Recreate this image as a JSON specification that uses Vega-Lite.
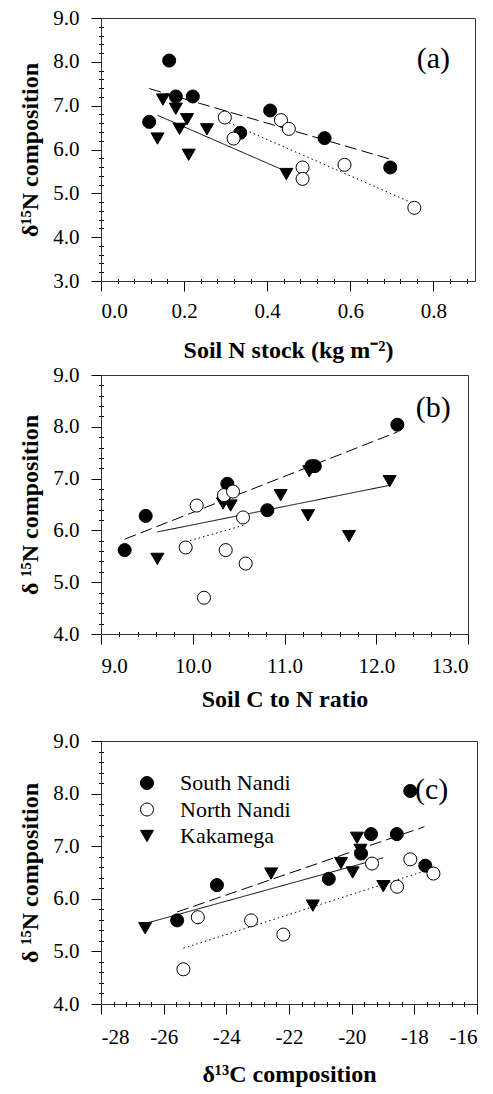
{
  "$schema": "https://vega.github.io/schema/vega-lite/v6.json",
  "padding": {"left": 18, "top": 6, "right": 5, "bottom": 5},
  "background": "white",
  "config": {
    "font": "Liberation Serif",
    "style": {"guide-label": {"font": "Liberation Serif"}},
    "view": {"stroke": "#333", "strokeWidth": 1},
    "axis": {"labelFont": "Liberation Serif", "labelFontSize": 21, "labelColor": "black", "titleFont": "Liberation Serif", "titleFontSize": 24, "titleFontWeight": "bold", "titleColor": "black", "grid": false, "domainColor": "#333", "tickColor": "black", "tickSize": 10, "domainWidth": 1, "tickWidth": 1},
    "legend": {"labelFont": "Liberation Serif, serif", "labelFontSize": 22, "labelColor": "black", "symbolStrokeColor": "black", "symbolStrokeWidth": 1}
  },
  "datasets": {
    "pts": [
      {"panel": "a", "site": "Kakamega", "x": 0.149, "y": 7.14},
      {"panel": "a", "site": "Kakamega", "x": 0.180, "y": 6.93},
      {"panel": "a", "site": "Kakamega", "x": 0.207, "y": 6.69},
      {"panel": "a", "site": "Kakamega", "x": 0.189, "y": 6.47},
      {"panel": "a", "site": "Kakamega", "x": 0.136, "y": 6.25},
      {"panel": "a", "site": "Kakamega", "x": 0.255, "y": 6.46},
      {"panel": "a", "site": "Kakamega", "x": 0.211, "y": 5.88},
      {"panel": "a", "site": "Kakamega", "x": 0.446, "y": 5.44},
      {"panel": "a", "site": "South Nandi", "x": 0.116, "y": 6.63},
      {"panel": "a", "site": "South Nandi", "x": 0.164, "y": 8.03},
      {"panel": "a", "site": "South Nandi", "x": 0.180, "y": 7.21},
      {"panel": "a", "site": "South Nandi", "x": 0.221, "y": 7.21},
      {"panel": "a", "site": "South Nandi", "x": 0.335, "y": 6.38},
      {"panel": "a", "site": "South Nandi", "x": 0.407, "y": 6.89},
      {"panel": "a", "site": "South Nandi", "x": 0.538, "y": 6.26},
      {"panel": "a", "site": "South Nandi", "x": 0.696, "y": 5.59},
      {"panel": "a", "site": "North Nandi", "x": 0.298, "y": 6.73},
      {"panel": "a", "site": "North Nandi", "x": 0.319, "y": 6.25},
      {"panel": "a", "site": "North Nandi", "x": 0.433, "y": 6.67},
      {"panel": "a", "site": "North Nandi", "x": 0.452, "y": 6.47},
      {"panel": "a", "site": "North Nandi", "x": 0.485, "y": 5.59},
      {"panel": "a", "site": "North Nandi", "x": 0.485, "y": 5.33},
      {"panel": "a", "site": "North Nandi", "x": 0.586, "y": 5.65},
      {"panel": "a", "site": "North Nandi", "x": 0.754, "y": 4.67},
      {"panel": "b", "site": "Kakamega", "x": 9.614, "y": 5.45},
      {"panel": "b", "site": "Kakamega", "x": 10.330, "y": 6.52},
      {"panel": "b", "site": "Kakamega", "x": 10.413, "y": 6.48},
      {"panel": "b", "site": "Kakamega", "x": 10.958, "y": 6.68},
      {"panel": "b", "site": "Kakamega", "x": 11.256, "y": 6.29},
      {"panel": "b", "site": "Kakamega", "x": 11.703, "y": 5.89},
      {"panel": "b", "site": "Kakamega", "x": 12.146, "y": 6.95},
      {"panel": "b", "site": "Kakamega", "x": 11.27, "y": 7.14},
      {"panel": "b", "site": "South Nandi", "x": 9.258, "y": 5.62},
      {"panel": "b", "site": "South Nandi", "x": 9.487, "y": 6.28},
      {"panel": "b", "site": "South Nandi", "x": 10.377, "y": 6.90},
      {"panel": "b", "site": "South Nandi", "x": 10.813, "y": 6.39},
      {"panel": "b", "site": "South Nandi", "x": 11.293, "y": 7.24},
      {"panel": "b", "site": "South Nandi", "x": 11.33, "y": 7.24},
      {"panel": "b", "site": "South Nandi", "x": 12.23, "y": 8.04},
      {"panel": "b", "site": "South Nandi", "x": 10.341, "y": 6.66},
      {"panel": "b", "site": "North Nandi", "x": 10.043, "y": 6.48},
      {"panel": "b", "site": "North Nandi", "x": 10.341, "y": 6.68},
      {"panel": "b", "site": "North Nandi", "x": 10.439, "y": 6.75},
      {"panel": "b", "site": "North Nandi", "x": 10.548, "y": 6.25},
      {"panel": "b", "site": "North Nandi", "x": 9.923, "y": 5.67},
      {"panel": "b", "site": "North Nandi", "x": 10.359, "y": 5.62},
      {"panel": "b", "site": "North Nandi", "x": 10.577, "y": 5.36},
      {"panel": "b", "site": "North Nandi", "x": 10.123, "y": 4.70},
      {"panel": "c", "site": "Kakamega", "x": -26.59, "y": 5.44},
      {"panel": "c", "site": "Kakamega", "x": -22.57, "y": 6.48},
      {"panel": "c", "site": "Kakamega", "x": -21.24, "y": 5.87},
      {"panel": "c", "site": "Kakamega", "x": -20.34, "y": 6.68},
      {"panel": "c", "site": "Kakamega", "x": -19.97, "y": 6.50},
      {"panel": "c", "site": "Kakamega", "x": -19.83, "y": 7.16},
      {"panel": "c", "site": "Kakamega", "x": -18.99, "y": 6.24},
      {"panel": "c", "site": "Kakamega", "x": -19.72, "y": 6.93},
      {"panel": "c", "site": "South Nandi", "x": -25.57, "y": 5.59},
      {"panel": "c", "site": "South Nandi", "x": -24.30, "y": 6.26},
      {"panel": "c", "site": "South Nandi", "x": -20.73, "y": 6.38},
      {"panel": "c", "site": "South Nandi", "x": -19.70, "y": 6.86},
      {"panel": "c", "site": "South Nandi", "x": -19.38, "y": 7.23},
      {"panel": "c", "site": "South Nandi", "x": -18.56, "y": 7.23},
      {"panel": "c", "site": "South Nandi", "x": -18.13, "y": 8.05},
      {"panel": "c", "site": "South Nandi", "x": -17.65, "y": 6.63},
      {"panel": "c", "site": "North Nandi", "x": -24.91, "y": 5.65},
      {"panel": "c", "site": "North Nandi", "x": -23.21, "y": 5.59},
      {"panel": "c", "site": "North Nandi", "x": -22.18, "y": 5.32},
      {"panel": "c", "site": "North Nandi", "x": -25.37, "y": 4.66},
      {"panel": "c", "site": "North Nandi", "x": -19.35, "y": 6.67},
      {"panel": "c", "site": "North Nandi", "x": -18.55, "y": 6.23},
      {"panel": "c", "site": "North Nandi", "x": -18.13, "y": 6.75},
      {"panel": "c", "site": "North Nandi", "x": -17.39, "y": 6.48}
    ],
    "fits": [
      {"panel": "a", "site": "South Nandi", "x": 0.116, "y": 7.39},
      {"panel": "a", "site": "South Nandi", "x": 0.696, "y": 5.78},
      {"panel": "a", "site": "North Nandi", "x": 0.298, "y": 6.65},
      {"panel": "a", "site": "North Nandi", "x": 0.754, "y": 4.76},
      {"panel": "a", "site": "Kakamega", "x": 0.136, "y": 6.78},
      {"panel": "a", "site": "Kakamega", "x": 0.446, "y": 5.50},
      {"panel": "b", "site": "South Nandi", "x": 9.258, "y": 5.83},
      {"panel": "b", "site": "South Nandi", "x": 12.23, "y": 7.90},
      {"panel": "b", "site": "North Nandi", "x": 9.923, "y": 5.78},
      {"panel": "b", "site": "North Nandi", "x": 10.558, "y": 6.10},
      {"panel": "b", "site": "Kakamega", "x": 9.614, "y": 5.97},
      {"panel": "b", "site": "Kakamega", "x": 12.146, "y": 6.87},
      {"panel": "c", "site": "South Nandi", "x": -25.57, "y": 5.75},
      {"panel": "c", "site": "South Nandi", "x": -17.68, "y": 7.37},
      {"panel": "c", "site": "North Nandi", "x": -25.37, "y": 5.06},
      {"panel": "c", "site": "North Nandi", "x": -17.39, "y": 6.58},
      {"panel": "c", "site": "Kakamega", "x": -26.59, "y": 5.53},
      {"panel": "c", "site": "Kakamega", "x": -18.99, "y": 6.78}
    ]
  },
  "resolve": {"scale": {"fill": "independent", "shape": "independent", "stroke": "independent", "strokeDash": "independent"}},
  "spacing": 17,
  "vconcat": [
    {
      "spacing": 0,
      "resolve": {"scale": {"fill": "independent", "shape": "independent", "stroke": "independent", "strokeDash": "independent"}},
      "vconcat": [
        {
          "width": 374, "height": 263,
          "resolve": {"axis": {"x": "independent", "y": "independent"}},
          "layer": [
            {
              "data": {"name": "fits"},
              "transform": [{"filter": "datum.panel === 'a'"}],
              "mark": {"type": "line", "color": "black", "strokeWidth": 1},
              "encoding": {
                "x": {"field": "x", "type": "quantitative", "scale": {"domain": [0, 0.9], "nice": false, "zero": false},
                  "axis": {"orient": "bottom", "values": [0.04,0.08,0.12,0.16,0.24,0.28,0.32,0.36,0.44,0.48,0.52,0.56,0.64,0.68,0.72,0.76,0.84,0.88], "labels": false, "domain": false, "tickSize": 5, "offset": -2.5, "title": null}},
                "y": {"field": "y", "type": "quantitative", "scale": {"domain": [3, 9], "nice": false, "zero": false},
                  "axis": {"orient": "left", "values": [3.2,3.4,3.6,3.8,4.2,4.4,4.6,4.8,5.2,5.4,5.6,5.8,6.2,6.4,6.6,6.8,7.2,7.4,7.6,7.8,8.2,8.4,8.6,8.8], "labels": false, "domain": false, "tickSize": 5, "offset": -2.5, "title": null}},
                "detail": {"field": "site"},
                "strokeDash": {"field": "site", "type": "nominal", "scale": {"domain": ["Kakamega", "North Nandi", "South Nandi"], "range": [[1, 0], [1.5, 3], [12, 5]]}, "legend": null}
              }
            },
            {
              "data": {"name": "pts"},
              "transform": [{"filter": "datum.panel === 'a'"}],
              "mark": {"type": "point", "filled": true, "strokeWidth": 1, "opacity": 1, "size": 170},
              "encoding": {
                "x": {"field": "x", "type": "quantitative", "axis": {"orient": "bottom", "values": [0, 0.2, 0.4, 0.6, 0.8], "format": ".1f", "title": "Soil N stock  (kg m⁻²)", "labelPadding": 9, "titlePadding": 17}},
                "y": {"field": "y", "type": "quantitative", "axis": {"orient": "left", "values": [3, 4, 5, 6, 7, 8, 9], "format": ".1f", "title": "δ¹⁵N composition", "labelPadding": 12, "titlePadding": 10}},
                "shape": {"field": "site", "type": "nominal", "scale": {"domain": ["South Nandi", "North Nandi", "Kakamega"], "range": ["circle", "circle", "triangle-down"]}, "legend": null},
                "fill": {"field": "site", "type": "nominal", "scale": {"domain": ["South Nandi", "North Nandi", "Kakamega"], "range": ["black", "white", "black"]}, "legend": null},
                "stroke": {"field": "site", "type": "nominal", "scale": {"domain": ["South Nandi", "North Nandi", "Kakamega"], "range": ["black", "black", "black"]}, "legend": null}
              }
            },
            {
              "data": {"values": [{"label": "(a)"}]},
              "mark": {"type": "text", "font": "Liberation Serif", "fontSize": 30, "color": "black"},
              "encoding": {
                "x": {"datum": 0.80, "type": "quantitative", "axis": null},
                "y": {"datum": 8.06, "type": "quantitative", "axis": null},
                "text": {"field": "label"}
              }
            }
          ]
        },
        {
          "width": 367, "height": 259,
          "resolve": {"axis": {"x": "independent", "y": "independent"}},
          "layer": [
            {
              "data": {"name": "fits"},
              "transform": [{"filter": "datum.panel === 'b'"}],
              "mark": {"type": "line", "color": "black", "strokeWidth": 1},
              "encoding": {
                "x": {"field": "x", "type": "quantitative", "scale": {"domain": [9, 13], "nice": false, "zero": false},
                  "axis": {"orient": "bottom", "values": [9.2,9.4,9.6,9.8,10.2,10.4,10.6,10.8,11.2,11.4,11.6,11.8,12.2,12.4,12.6,12.8], "labels": false, "domain": false, "tickSize": 5, "offset": -2.5, "title": null}},
                "y": {"field": "y", "type": "quantitative", "scale": {"domain": [4, 9], "nice": false, "zero": false},
                  "axis": {"orient": "left", "values": [4.2,4.4,4.6,4.8,5.2,5.4,5.6,5.8,6.2,6.4,6.6,6.8,7.2,7.4,7.6,7.8,8.2,8.4,8.6,8.8], "labels": false, "domain": false, "tickSize": 5, "offset": -2.5, "title": null}},
                "detail": {"field": "site"},
                "strokeDash": {"field": "site", "type": "nominal", "scale": {"domain": ["Kakamega", "North Nandi", "South Nandi"], "range": [[1, 0], [1.5, 3], [12, 5]]}, "legend": null}
              }
            },
            {
              "data": {"name": "pts"},
              "transform": [{"filter": "datum.panel === 'b'"}],
              "mark": {"type": "point", "filled": true, "strokeWidth": 1, "opacity": 1, "size": 170},
              "encoding": {
                "x": {"field": "x", "type": "quantitative", "axis": {"orient": "bottom", "values": [9, 10, 11, 12, 13], "format": ".1f", "title": "Soil C to N ratio", "labelPadding": 11, "titlePadding": 11}},
                "y": {"field": "y", "type": "quantitative", "axis": {"orient": "left", "values": [4, 5, 6, 7, 8, 9], "format": ".1f", "title": "δ ¹⁵N composition", "labelPadding": 12, "titlePadding": 10}},
                "shape": {"field": "site", "type": "nominal", "scale": {"domain": ["South Nandi", "North Nandi", "Kakamega"], "range": ["circle", "circle", "triangle-down"]}, "legend": null},
                "fill": {"field": "site", "type": "nominal", "scale": {"domain": ["South Nandi", "North Nandi", "Kakamega"], "range": ["black", "white", "black"]}, "legend": null},
                "stroke": {"field": "site", "type": "nominal", "scale": {"domain": ["South Nandi", "North Nandi", "Kakamega"], "range": ["black", "black", "black"]}, "legend": null}
              }
            },
            {
              "data": {"values": [{"label": "(b)"}]},
              "mark": {"type": "text", "font": "Liberation Serif", "fontSize": 30, "color": "black"},
              "encoding": {
                "x": {"datum": 12.62, "type": "quantitative", "axis": null},
                "y": {"datum": 8.36, "type": "quantitative", "axis": null},
                "text": {"field": "label"}
              }
            }
          ]
        }
      ]
    },
    {
      "width": 376, "height": 263,
      "resolve": {"axis": {"x": "independent", "y": "independent"}},
      "layer": [
        {
          "data": {"name": "fits"},
          "transform": [{"filter": "datum.panel === 'c'"}],
          "mark": {"type": "line", "color": "black", "strokeWidth": 1},
          "encoding": {
            "x": {"field": "x", "type": "quantitative", "scale": {"domain": [-28, -16], "nice": false, "zero": false},
              "axis": {"orient": "bottom", "values": [-27.6,-27.2,-26.8,-26.4,-25.6,-25.2,-24.8,-24.4,-23.6,-23.2,-22.8,-22.4,-21.6,-21.2,-20.8,-20.4,-19.6,-19.2,-18.8,-18.4,-17.6,-17.2,-16.8,-16.4], "labels": false, "domain": false, "tickSize": 5, "offset": -2.5, "title": null}},
            "y": {"field": "y", "type": "quantitative", "scale": {"domain": [4, 9], "nice": false, "zero": false},
              "axis": {"orient": "left", "values": [4.2,4.4,4.6,4.8,5.2,5.4,5.6,5.8,6.2,6.4,6.6,6.8,7.2,7.4,7.6,7.8,8.2,8.4,8.6,8.8], "labels": false, "domain": false, "tickSize": 5, "offset": -2.5, "title": null}},
            "detail": {"field": "site"},
            "strokeDash": {"field": "site", "type": "nominal", "scale": {"domain": ["Kakamega", "North Nandi", "South Nandi"], "range": [[1, 0], [1.5, 3], [12, 5]]}, "legend": null}
          }
        },
        {
          "data": {"name": "pts"},
          "transform": [{"filter": "datum.panel === 'c'"}],
          "mark": {"type": "point", "filled": true, "strokeWidth": 1, "opacity": 1, "size": 170},
          "encoding": {
            "x": {"field": "x", "type": "quantitative", "axis": {"orient": "bottom", "values": [-28, -26, -24, -22, -20, -18, -16], "labelExpr": "toString(datum.value)", "title": "δ¹³C composition", "labelPadding": 12, "titlePadding": 15}},
            "y": {"field": "y", "type": "quantitative", "axis": {"orient": "left", "values": [4, 5, 6, 7, 8, 9], "format": ".1f", "title": "δ ¹⁵N composition", "labelPadding": 12, "titlePadding": 10}},
            "shape": {"field": "site", "type": "nominal", "scale": {"domain": ["South Nandi", "North Nandi", "Kakamega"], "range": ["circle", "circle", "triangle-down"]},
              "legend": {"orient": "none", "legendX": 35, "legendY": 31, "title": null, "symbolSize": 170, "labelOffset": 22, "rowPadding": 4.5, "padding": 0, "labelFont": "Liberation Serif, serif", "labelFontSize": 22, "symbolStrokeWidth": 1,
                "encoding": {"symbols": {"stroke": {"value": "black"}, "strokeWidth": {"value": 1}}, "labels": {"font": {"value": "Liberation Serif, serif"}, "fontSize": {"value": 22}}}}},
            "fill": {"field": "site", "type": "nominal", "scale": {"domain": ["South Nandi", "North Nandi", "Kakamega"], "range": ["black", "white", "black"]},
              "legend": {"orient": "none", "legendX": 35, "legendY": 31, "title": null, "symbolSize": 170, "labelOffset": 22, "rowPadding": 4.5, "padding": 0, "labelFont": "Liberation Serif, serif", "labelFontSize": 22, "symbolStrokeWidth": 1,
                "encoding": {"symbols": {"stroke": {"value": "black"}, "strokeWidth": {"value": 1}}, "labels": {"font": {"value": "Liberation Serif, serif"}, "fontSize": {"value": 22}}}}},
            "stroke": {"field": "site", "type": "nominal", "scale": {"domain": ["South Nandi", "North Nandi", "Kakamega"], "range": ["black", "black", "black"]},
              "legend": {"orient": "none", "legendX": 35, "legendY": 31, "title": null, "symbolSize": 170, "labelOffset": 22, "rowPadding": 4.5, "padding": 0, "labelFont": "Liberation Serif, serif", "labelFontSize": 22, "symbolStrokeWidth": 1,
                "encoding": {"symbols": {"stroke": {"value": "black"}, "strokeWidth": {"value": 1}}, "labels": {"font": {"value": "Liberation Serif, serif"}, "fontSize": {"value": 22}}}}}
          }
        },
        {
          "data": {"values": [{"label": "(c)"}]},
          "mark": {"type": "text", "font": "Liberation Serif", "fontSize": 30, "color": "black"},
          "encoding": {
            "x": {"datum": -17.45, "type": "quantitative", "axis": null},
            "y": {"datum": 8.07, "type": "quantitative", "axis": null},
            "text": {"field": "label"}
          }
        }
      ]
    }
  ]
}
